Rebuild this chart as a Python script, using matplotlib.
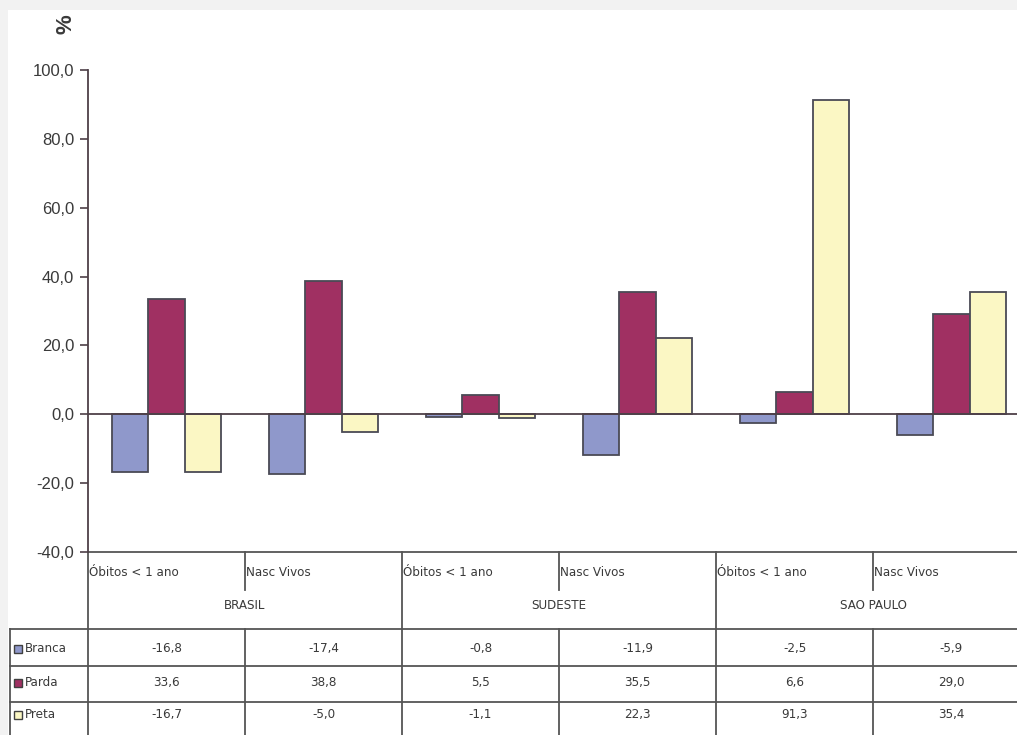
import matplotlib.pyplot as plt
import matplotlib.transforms as mtransforms
from matplotlib.patches import Rectangle
import numpy as np

# Variação percentual por raça/cor
groups = ["BRASIL", "SUDESTE", "SAO PAULO"]
categories = ["Óbitos < 1 ano", "Nasc Vivos"] * 3
series_names = ["Branca", "Parda", "Preta"]
branca = [-16.8, -17.4, -0.8, -11.9, -2.5, -5.9]
parda = [33.6, 38.8, 5.5, 35.5, 6.6, 29.0]
preta = [-16.7, -5.0, -1.1, 22.3, 91.3, 35.4]
series = [branca, parda, preta]
colors = ["#8f98cb", "#a03062", "#fbf7c4"]
yticks = [-40, -20, 0, 20, 40, 60, 80, 100]

W, H = 1017, 735
fig = plt.figure(figsize=(W / 100, H / 100), dpi=100, facecolor="#f2f2f2")

# pixel coordinates, origin at top left
pix = mtransforms.Affine2D().scale(1 / W, -1 / H).translate(0, 1) + fig.transFigure

fig.patches.append(Rectangle((8, 10), W, H, transform=pix, facecolor="white",
                             edgecolor="none", zorder=-10))

font = ["Liberation Sans", "DejaVu Sans"]
small = dict(family=["DejaVu Sans"], fontstretch="condensed", fontsize=9.5)
axis_col = "#4e4048"
line_col = "#555555"
text_col = "#3a3a3a"

ax_left, ax_right = 88, 1030
ax_top, ax_bot = 70, 552
ax = fig.add_axes([ax_left / W, 1 - ax_bot / H, (ax_right - ax_left) / W, (ax_bot - ax_top) / H])
ax.set_facecolor("none")
ax.set_zorder(5)

n = len(categories)
x = np.arange(n) + 0.5
bw = 0.23
for i, (vals, col) in enumerate(zip(series, colors)):
    ax.bar(x + (i - 1) * bw, vals, width=bw, color=col, edgecolor="#4a4a55",
           linewidth=1.3, zorder=3)

ax.set_xlim(0, n)
ax.set_ylim(-40, 100)
ax.set_yticks(yticks)
ax.set_yticklabels([f"{v:.1f}".replace(".", ",") for v in yticks],
                   family=font, fontsize=12, color=text_col)
ax.tick_params(axis="y", direction="out", length=6, width=1.2, color=axis_col, pad=4)
ax.set_xticks([])
for s in ["top", "right", "bottom"]:
    ax.spines[s].set_visible(False)
ax.spines["left"].set_color(axis_col)
ax.spines["left"].set_linewidth(1.3)
ax.axhline(0, color=axis_col, linewidth=1.3, zorder=4)

fig.text(66 / W, 1 - 24 / H, "%", rotation=90, ha="center", va="center",
         family=font, fontsize=16, fontweight="bold", color=text_col)

# data table under the plot: x from data, y in pixels
bt = mtransforms.blended_transform_factory(ax.transData, pix)


def vline(xd, y0, y1):
    ax.add_artist(plt.Line2D([xd, xd], [y0, y1], transform=bt, color=line_col,
                             linewidth=1.3, clip_on=False))


def hline(x0, y):
    fig.add_artist(plt.Line2D([x0, W + 20], [y, y], transform=pix, color=line_col,
                              linewidth=1.3, clip_on=False))


hline(ax_left, ax_bot)
row_lines = [629, 666, 702]
for y in row_lines:
    hline(10, y)
fig.add_artist(plt.Line2D([10, 10], [629, H + 5], transform=pix, color=line_col, linewidth=1.3))

for k in range(n + 1):
    if k % 2 == 0:
        vline(k, ax_bot, H + 5)
    else:
        vline(k, ax_bot, 590)
        vline(k, 629, H + 5)

for k, cat in enumerate(categories):
    ax.text(k + 0.008, 573, cat, transform=bt, ha="left", va="center",
            color=text_col, clip_on=False, **small)

for g, name in enumerate(groups):
    ax.text(2 * g + 1, 606, name, transform=bt, ha="center", va="center",
            color=text_col, clip_on=False, **small)

row_y = [649, 683, 715]
for vals, col, name, y in zip(series, colors, series_names, row_y):
    fig.patches.append(Rectangle((14, y - 4), 8, 8, transform=pix, facecolor=col,
                                 edgecolor="#404040", linewidth=1.0))
    fig.text(25 / W, 1 - y / H, name, ha="left", va="center",
             color=text_col, **small)
    for k, v in enumerate(vals):
        ax.text(x[k], y, f"{v:.1f}".replace(".", ","), transform=bt, ha="center",
                va="center", color=text_col, clip_on=False, **small)

fig.savefig("out.png", dpi=100, facecolor=fig.get_facecolor())
